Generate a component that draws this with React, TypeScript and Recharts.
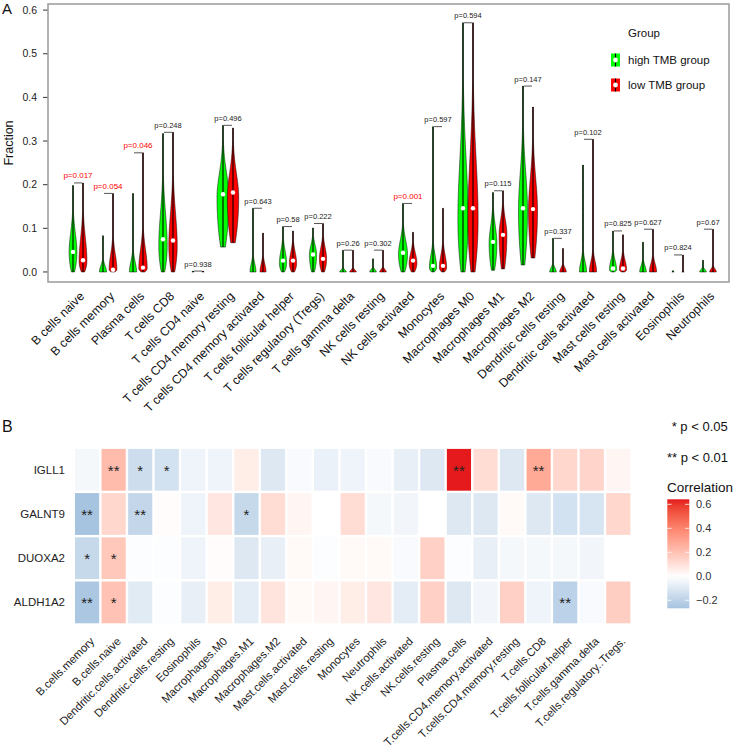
import React from 'react';
import {
  ComposedChart, ScatterChart, Bar, Scatter, XAxis, YAxis, Legend,
} from 'recharts';

const FONT = '"Liberation Sans", Arial, Helvetica, sans-serif';
const GREEN = '#00FF00';
const RED = '#FF0000';
const BORDER = '#9a9a9a';

// ---- Panel A: CIBERSORT fractions, high vs low TMB ----
const CELL_TYPES = [
  'B cells naive', 'B cells memory', 'Plasma cells', 'T cells CD8', 'T cells CD4 naive',
  'T cells CD4 memory resting', 'T cells CD4 memory activated', 'T cells follicular helper',
  'T cells regulatory (Tregs)', 'T cells gamma delta', 'NK cells resting', 'NK cells activated',
  'Monocytes', 'Macrophages M0', 'Macrophages M1', 'Macrophages M2', 'Dendritic cells resting',
  'Dendritic cells activated', 'Mast cells resting', 'Mast cells activated', 'Eosinophils', 'Neutrophils',
];

// high TMB group (green)
const HIGH_MIN = [0, 0, 0, 0, 0, 0.057, 0, 0, 0, 0, 0, 0, 0, 0, 0.004, 0.016, 0, 0, 0, 0, 0, 0];
const HIGH_MAX = [0.198, 0.083, 0.18, 0.317, 0.002, 0.336, 0.146, 0.104, 0.101, 0.05, 0.03, 0.157, 0.333, 0.571, 0.182, 0.426, 0.077, 0.245, 0.094, 0.068, 0.003, 0.027];
const HIGH_MEDIAN = [0.046, 0, 0, 0.075, 0, 0.178, 0, 0.026, 0.04, 0, 0, 0.044, 0.014, 0.146, 0.069, 0.146, 0, 0, 0.008, 0, 0, 0];
const HIGH_PEAK = [0.045, 0, 0, 0.06, 0, 0.17, 0, 0.02, 0.04, 0, 0, 0.04, 0.01, 0.12, 0.065, 0.14, 0, 0, 0.005, 0, 0, 0];
const HIGH_BODY = [0.14, 0.03, 0.05, 0.22, 0.001, 0.29, 0.04, 0.08, 0.085, 0.01, 0.012, 0.11, 0.07, 0.42, 0.15, 0.33, 0.02, 0.05, 0.05, 0.03, 0.001, 0.012];
const HIGH_WIDTH = [0.65, 0.6, 0.6, 0.7, 0.2, 1.0, 0.5, 0.6, 0.6, 0.55, 0.55, 0.75, 0.6, 0.85, 0.65, 0.75, 0.55, 0.6, 0.6, 0.55, 0.2, 0.55];

// low TMB group (red)
const LOW_MIN = [0, 0, 0, 0, 0, 0.067, 0, 0, 0, 0, 0, 0, 0, 0, 0.007, 0.032, 0, 0, 0, 0, 0, 0];
const LOW_MAX = [0.204, 0.18, 0.273, 0.32, 0.002, 0.33, 0.089, 0.094, 0.111, 0.05, 0.05, 0.091, 0.146, 0.571, 0.186, 0.378, 0.054, 0.304, 0.085, 0.098, 0.039, 0.098];
const LOW_MEDIAN = [0.027, 0.005, 0.01, 0.072, 0, 0.182, 0, 0.026, 0.03, 0, 0, 0.026, 0.014, 0.146, 0.085, 0.144, 0, 0, 0.008, 0, 0, 0];
const LOW_PEAK = [0.025, 0.005, 0.008, 0.06, 0, 0.17, 0, 0.02, 0.03, 0, 0, 0.02, 0.01, 0.12, 0.085, 0.14, 0, 0, 0.005, 0, 0, 0];
const LOW_BODY = [0.14, 0.08, 0.1, 0.22, 0.001, 0.29, 0.04, 0.075, 0.085, 0.01, 0.012, 0.07, 0.07, 0.42, 0.16, 0.3, 0.02, 0.05, 0.05, 0.04, 0.001, 0.015];
const LOW_WIDTH = [0.65, 0.65, 0.7, 0.7, 0.2, 0.95, 0.5, 0.6, 0.6, 0.55, 0.55, 0.65, 0.6, 0.85, 0.65, 0.75, 0.55, 0.6, 0.6, 0.6, 0.2, 0.55];

const P_VALUES = [0.017, 0.054, 0.046, 0.248, 0.938, 0.496, 0.643, 0.58, 0.222, 0.26, 0.302, 0.001, 0.597, 0.594, 0.115, 0.147, 0.337, 0.102, 0.825, 0.627, 0.824, 0.67];
const FRACTION_TICKS = [0, 0.1, 0.2, 0.3, 0.4, 0.5, 0.6];
const GROUPS = [
  { label: 'high TMB group', color: GREEN },
  { label: 'low TMB group', color: RED },
];

// ---- Panel B: gene / immune cell correlation ----
const GENES = ['IGLL1', 'GALNT9', 'DUOXA2', 'ALDH1A2'];
const HEAT_CELLS = [
  'B.cells.memory', 'B.cells.naive', 'Dendritic.cells.activated', 'Dendritic.cells.resting', 'Eosinophils',
  'Macrophages.M0', 'Macrophages.M1', 'Macrophages.M2', 'Mast.cells.activated', 'Mast.cells.resting',
  'Monocytes', 'Neutrophils', 'NK.cells.activated', 'NK.cells.resting', 'Plasma.cells',
  'T.cells.CD4.memory.activated', 'T.cells.CD4.memory.resting', 'T.cells.CD8', 'T.cells.follicular.helper',
  'T.cells.gamma.delta', 'T.cells.regulatory..Tregs.',
];
const CORR_IGLL1 = [-0.03, 0.22, -0.15, -0.13, -0.05, -0.05, 0.06, -0.1, -0.02, -0.06, -0.05, -0.02, -0.07, -0.1, 0.642, 0.11, -0.1, 0.28, 0.13, 0.14, 0.03];
const CORR_GALNT9 = [-0.267, 0.13, -0.18, 0.01, -0.05, 0.08, -0.17, 0.11, 0.03, 0, 0.11, -0.03, -0.04, 0, -0.1, -0.1, 0.02, -0.1, -0.13, -0.12, 0.13];
const CORR_DUOXA2 = [-0.17, 0.18, -0.01, -0.01, -0.05, 0.01, -0.1, -0.07, 0.02, -0.01, 0.02, 0.02, -0.02, 0.15, -0.01, -0.07, -0.03, -0.03, -0.03, -0.04, 0];
const CORR_ALDH1A2 = [-0.25, 0.2, -0.09, -0.01, -0.07, 0.06, -0.08, 0.09, 0.02, 0.03, 0.06, 0.08, -0.08, 0.15, -0.1, -0.04, 0.15, -0.05, -0.2, -0.02, 0.16];
const SIG_IGLL1 = ['', '**', '*', '*', '', '', '', '', '', '', '', '', '', '', '**', '', '', '**', '', '', ''];
const SIG_GALNT9 = ['**', '', '**', '', '', '', '*', '', '', '', '', '', '', '', '', '', '', '', '', '', ''];
const SIG_DUOXA2 = ['*', '*', '', '', '', '', '', '', '', '', '', '', '', '', '', '', '', '', '', '', ''];
const SIG_ALDH1A2 = ['**', '*', '', '', '', '', '', '', '', '', '', '', '', '', '', '', '', '', '**', '', ''];
const CORR_TICKS = [0.6, 0.4, 0.2, 0, -0.2];

const CORR_ROWS = [CORR_IGLL1, CORR_GALNT9, CORR_DUOXA2, CORR_ALDH1A2];
const SIG_ROWS = [SIG_IGLL1, SIG_GALNT9, SIG_DUOXA2, SIG_ALDH1A2];

const violinRows = CELL_TYPES.map((name, i) => ({
  name,
  highMin: HIGH_MIN[i], highMax: HIGH_MAX[i], highMedian: HIGH_MEDIAN[i],
  highPeak: HIGH_PEAK[i], highBody: HIGH_BODY[i], highWidth: HIGH_WIDTH[i],
  lowMin: LOW_MIN[i], lowMax: LOW_MAX[i], lowMedian: LOW_MEDIAN[i],
  lowPeak: LOW_PEAK[i], lowBody: LOW_BODY[i], lowWidth: LOW_WIDTH[i],
  pValue: P_VALUES[i],
  bracket: Math.max(HIGH_MAX[i], LOW_MAX[i]),
}));

const heatCells = GENES.flatMap((gene, r) =>
  HEAT_CELLS.map((cell, c) => ({ gene, cell, row: r, col: c, value: CORR_ROWS[r][c], sig: SIG_ROWS[r][c] })),
);

const allCorr = CORR_ROWS.flat();
const CORR_MIN = Math.min(...allCorr);
const CORR_MAX = Math.max(...allCorr);
const CORR_SPAN = Math.max(Math.abs(CORR_MIN), Math.abs(CORR_MAX));

// red side interpolated in CIE Lab (salmon mid tones), blue side in RGB (keeps it steel blue)
function toLab(rgb255: number[]) {
  const rgb = rgb255.map((c) => c / 255).map((c) => (c <= 0.04045 ? c / 12.92 : ((c + 0.055) / 1.055) ** 2.4));
  const X = (0.4124 * rgb[0] + 0.3576 * rgb[1] + 0.1805 * rgb[2]) / 0.95047;
  const Y = 0.2126 * rgb[0] + 0.7152 * rgb[1] + 0.0722 * rgb[2];
  const Z = (0.0193 * rgb[0] + 0.1192 * rgb[1] + 0.9505 * rgb[2]) / 1.08883;
  const f = (t: number) => (t > 0.008856 ? Math.cbrt(t) : 7.787 * t + 16 / 116);
  return [116 * f(Y) - 16, 500 * (f(X) - f(Y)), 200 * (f(Y) - f(Z))];
}
function fromLab([L, a, b]: number[]) {
  const fy = (L + 16) / 116;
  const fx = fy + a / 500;
  const fz = fy - b / 200;
  const inv = (t: number) => (t ** 3 > 0.008856 ? t ** 3 : (t - 16 / 116) / 7.787);
  const X = inv(fx) * 0.95047;
  const Y = inv(fy);
  const Z = inv(fz) * 1.08883;
  const lin = [
    3.2406 * X - 1.5372 * Y - 0.4986 * Z,
    -0.9689 * X + 1.8758 * Y + 0.0415 * Z,
    0.0557 * X - 0.204 * Y + 1.057 * Z,
  ];
  return lin.map((v) => {
    const s = v <= 0.0031308 ? 12.92 * v : 1.055 * v ** (1 / 2.4) - 0.055;
    return Math.round(Math.min(1, Math.max(0, s)) * 255);
  });
}
const WHITE_RGB = [255, 255, 255];
const HIGH_RGB = [228, 26, 28];
const LOW_RGB = [40, 110, 180];
const WHITE_LAB = toLab(WHITE_RGB);
const HIGH_LAB = toLab(HIGH_RGB);
function corrColor(v: number) {
  const t = Math.min(Math.abs(v) / CORR_SPAN, 1);
  const c = v >= 0
    ? fromLab(WHITE_LAB.map((w, k) => w + (HIGH_LAB[k] - w) * t))
    : WHITE_RGB.map((w, k) => Math.round(w + (LOW_RGB[k] - w) * t));
  return `rgb(${c[0]},${c[1]},${c[2]})`;
}

// ---- shapes ----
const MAX_HALF = 6;

function violinShape(prefix: 'high' | 'low', fill: string) {
  return (props: any) => {
    const { x, y, width, height, payload } = props;
    const lo = payload[prefix + 'Min'];
    const hi = payload[prefix + 'Max'];
    const med = payload[prefix + 'Median'];
    const pk = payload[prefix + 'Peak'];
    const body = payload[prefix + 'Body'];
    const w = payload[prefix + 'Width'];
    const cx = x + width / 2;
    const span = hi - lo;
    const py = (v: number) => (span > 0 ? y + (height * (hi - v)) / span : y + height);
    const su = Math.max((body - pk) / 2.15, 1e-4);
    const hw = (v: number) => {
      let r;
      if (v >= pk) r = w * Math.exp(-0.5 * ((v - pk) / su) ** 2);
      else {
        const t = (pk - v) / Math.max(pk - lo, 1e-6);
        r = w * (1 - 0.6 * t * t);
      }
      return Math.max(r * MAX_HALF, 0.35);
    };
    const N = 90;
    const right: string[] = [];
    const left: string[] = [];
    for (let i = 0; i <= N; i++) {
      const v = lo + (span * i) / N;
      right.push(`${(cx + hw(v)).toFixed(2)},${py(v).toFixed(2)}`);
      left.unshift(`${(cx - hw(v)).toFixed(2)},${py(v).toFixed(2)}`);
    }
    const d = 'M' + right.join('L') + 'L' + left.join('L') + 'Z';
    return (
      <g>
        <path d={d} fill={fill} stroke="#000" strokeWidth={0.5} />
        <line x1={cx} x2={cx} y1={py(lo)} y2={py(hi)} stroke="#000" strokeWidth={1.1} />
        {med > 0 && <circle cx={cx} cy={py(med)} r={2.2} fill="#fff" />}
      </g>
    );
  };
}

function BracketShape(props: any) {
  const { cx, cy, payload } = props;
  const sig = payload.pValue < 0.06;
  return (
    <g>
      <line x1={cx - 4} x2={cx + 4} y1={cy} y2={cy} stroke="#555" strokeWidth={1} />
      <text x={cx} y={cy - 4.5} textAnchor="middle" fontSize={sig ? 8 : 7.5}
        fill={sig ? RED : '#222'} fontFamily={FONT}>
        {'p=' + payload.pValue}
      </text>
    </g>
  );
}

const CELL_W = 557.8 / 21 - 2.4;
const CELL_H = 176.8 / 4 - 2.4;

function HeatCell(props: any) {
  const { cx, cy, payload } = props;
  return (
    <g>
      <rect x={cx - CELL_W / 2} y={cy - CELL_H / 2} width={CELL_W} height={CELL_H} fill={corrColor(payload.value)} />
      {payload.sig && (
        <text x={cx} y={cy + 6} textAnchor="middle" fontSize={15} fill="#222" fontFamily={FONT}>
          {payload.sig}
        </text>
      )}
    </g>
  );
}

function CellTickA(props: any) {
  const { x, y, payload } = props;
  return (
    <text transform={`translate(${x + 7},${y + 15}) rotate(-45)`} textAnchor="end"
      fontSize={12.3} fill="#111" fontFamily={FONT}>
      {payload.value}
    </text>
  );
}

function CellTickB(props: any) {
  const { x, y, payload } = props;
  return (
    <text transform={`translate(${x + 8},${y + 17.5}) rotate(-45)`} textAnchor="end"
      fontSize={11.3} fill="#222" fontFamily={FONT}>
      {HEAT_CELLS[payload.value]}
    </text>
  );
}

function FractionLabel(props: any) {
  const { viewBox } = props;
  const x = viewBox.x + 9;
  const y = viewBox.y + viewBox.height / 2;
  return (
    <text x={x} y={y} transform={`rotate(-90, ${x}, ${y})`} textAnchor="middle"
      dominantBaseline="central" fontSize={12.5} fill="#111" fontFamily={FONT}>
      Fraction
    </text>
  );
}

function GroupLegend() {
  return (
    <svg width={130} height={80} style={{ fontFamily: FONT }}>
      <text x={23} y={17} fontSize={11.5} fill="#111">Group</text>
      {GROUPS.map((g, i) => (
        <g key={g.label}>
          <rect x={6} y={33.5 + 25 * i} width={9} height={13} fill={g.color} />
          <line x1={10.5} x2={10.5} y1={33.5 + 25 * i} y2={46.5 + 25 * i} stroke="#000" strokeWidth={1.2} />
          <circle cx={10.5} cy={40 + 25 * i} r={2.4} fill="#fff" />
          <text x={23} y={44 + 25 * i} fontSize={11.5} fill="#111">{g.label}</text>
        </g>
      ))}
    </svg>
  );
}

const BAR_TOP = 84.3;
const BAR_H = 109;
function CorrLegend() {
  const perUnit = BAR_H / (CORR_MAX - CORR_MIN);
  const stops = Array.from({ length: 21 }, (_, k) => {
    const v = CORR_MAX - ((CORR_MAX - CORR_MIN) * k) / 20;
    return { off: k / 20, color: corrColor(v) };
  });
  return (
    <svg width={80} height={200} style={{ fontFamily: FONT }}>
      <defs>
        <linearGradient id="corrGrad" x1="0" y1="0" x2="0" y2="1">
          {stops.map((s) => <stop key={s.off} offset={s.off} stopColor={s.color} />)}
        </linearGradient>
      </defs>
      <text x={11.7} y={16} fontSize={13} fill="#111">* p &lt; 0.05</text>
      <text x={7} y={46.5} fontSize={13} fill="#111">** p &lt; 0.01</text>
      <text x={7} y={76.5} fontSize={13.5} fill="#111">Correlation</text>
      <rect x={7.3} y={BAR_TOP} width={22} height={BAR_H} fill="url(#corrGrad)" />
      {CORR_TICKS.map((v) => {
        const ty = BAR_TOP + (CORR_MAX - v) * perUnit;
        return (
          <g key={v}>
            <line x1={7.3} x2={11.5} y1={ty} y2={ty} stroke="#fff" strokeWidth={0.8} />
            <line x1={25.1} x2={29.3} y1={ty} y2={ty} stroke="#fff" strokeWidth={0.8} />
            <text x={36} y={ty + 4} fontSize={11} fill="#333">
              {v < 0 ? '\u2212' + Math.abs(v).toFixed(1) : v.toFixed(1)}
            </text>
          </g>
        );
      })}
    </svg>
  );
}

// plot frame of panel A (matches the chart margins below)
const FRAME = { x: 48, y: 4, w: 681, h: 278 };
const CHART_A_H = 440;

export default function App() {
  return (
    <div style={{ position: 'absolute', left: 0, top: 0, width: 740, height: 752, background: '#fff', fontFamily: FONT }}>
      <div style={{ position: 'absolute', left: 0, top: 0 }}>
        <ComposedChart width={740} height={CHART_A_H} data={violinRows} barGap={2}
          margin={{ top: FRAME.y, right: 740 - FRAME.x - FRAME.w, bottom: 0, left: 0 }}>
          <XAxis dataKey="name" interval={0} height={CHART_A_H - FRAME.y - FRAME.h} padding={{ left: 15, right: 6 }}
            tickLine={false} tickSize={0} tickMargin={0} tick={<CellTickA />} axisLine={false} />
          <YAxis type="number" domain={[-0.023, 0.614]} ticks={FRACTION_TICKS} allowDataOverflow width={FRAME.x}
            tickSize={5} tickMargin={6} tickFormatter={(v: number) => v.toFixed(1)}
            tick={{ fontSize: 10.5, fill: '#222', fontFamily: FONT }} tickLine={{ stroke: '#333' }}
            axisLine={false} label={<FractionLabel />} />
          <Bar dataKey={(d: any) => [d.highMin, d.highMax]} fill={GREEN} barSize={8}
            shape={violinShape('high', GREEN)} isAnimationActive={false} />
          <Bar dataKey={(d: any) => [d.lowMin, d.lowMax]} fill={RED} barSize={8}
            shape={violinShape('low', RED)} isAnimationActive={false} />
          <Scatter dataKey="bracket" shape={<BracketShape />} isAnimationActive={false} />
          <Legend layout="vertical" verticalAlign="middle" align="center" content={<GroupLegend />}
            wrapperStyle={{ left: 605, top: 20, width: 130, height: 80 }} />
        </ComposedChart>
      </div>
      <div style={{ position: 'absolute', left: 0, top: 415 }}>
        <ScatterChart width={740} height={337} margin={{ top: 32.7, right: 108.4, bottom: 0, left: 0 }}>
          <XAxis type="number" dataKey="col" domain={[-0.5, HEAT_CELLS.length - 0.5]}
            ticks={HEAT_CELLS.map((_, i) => i)} interval={0} height={127.5}
            axisLine={false} tickLine={false} tickSize={0} tickMargin={0} tick={<CellTickB />} />
          <YAxis type="number" dataKey="row" domain={[-0.5, GENES.length - 0.5]} reversed
            ticks={GENES.map((_, i) => i)} interval={0} width={73.8}
            axisLine={false} tickLine={false} tickSize={3} tickMargin={5.8}
            tickFormatter={(i: number) => GENES[i]}
            tick={{ fontSize: 11.5, fill: '#222', fontFamily: FONT }} />
          <Scatter data={heatCells} shape={<HeatCell />} isAnimationActive={false} />
          <Legend layout="vertical" verticalAlign="middle" align="center" content={<CorrLegend />}
            wrapperStyle={{ left: 660, top: 0, width: 80, height: 200 }} />
        </ScatterChart>
      </div>
      <svg width={740} height={752} style={{ position: 'absolute', left: 0, top: 0, pointerEvents: 'none' }}>
        <rect x={FRAME.x} y={FRAME.y} width={FRAME.w} height={FRAME.h} fill="none" stroke={BORDER} strokeWidth={1.5} />
        <text x={2} y={13.5} fontSize={15} fill="#111" fontFamily={FONT}>A</text>
        <text x={2} y={432} fontSize={16} fill="#111" fontFamily={FONT}>B</text>
      </svg>
    </div>
  );
}
